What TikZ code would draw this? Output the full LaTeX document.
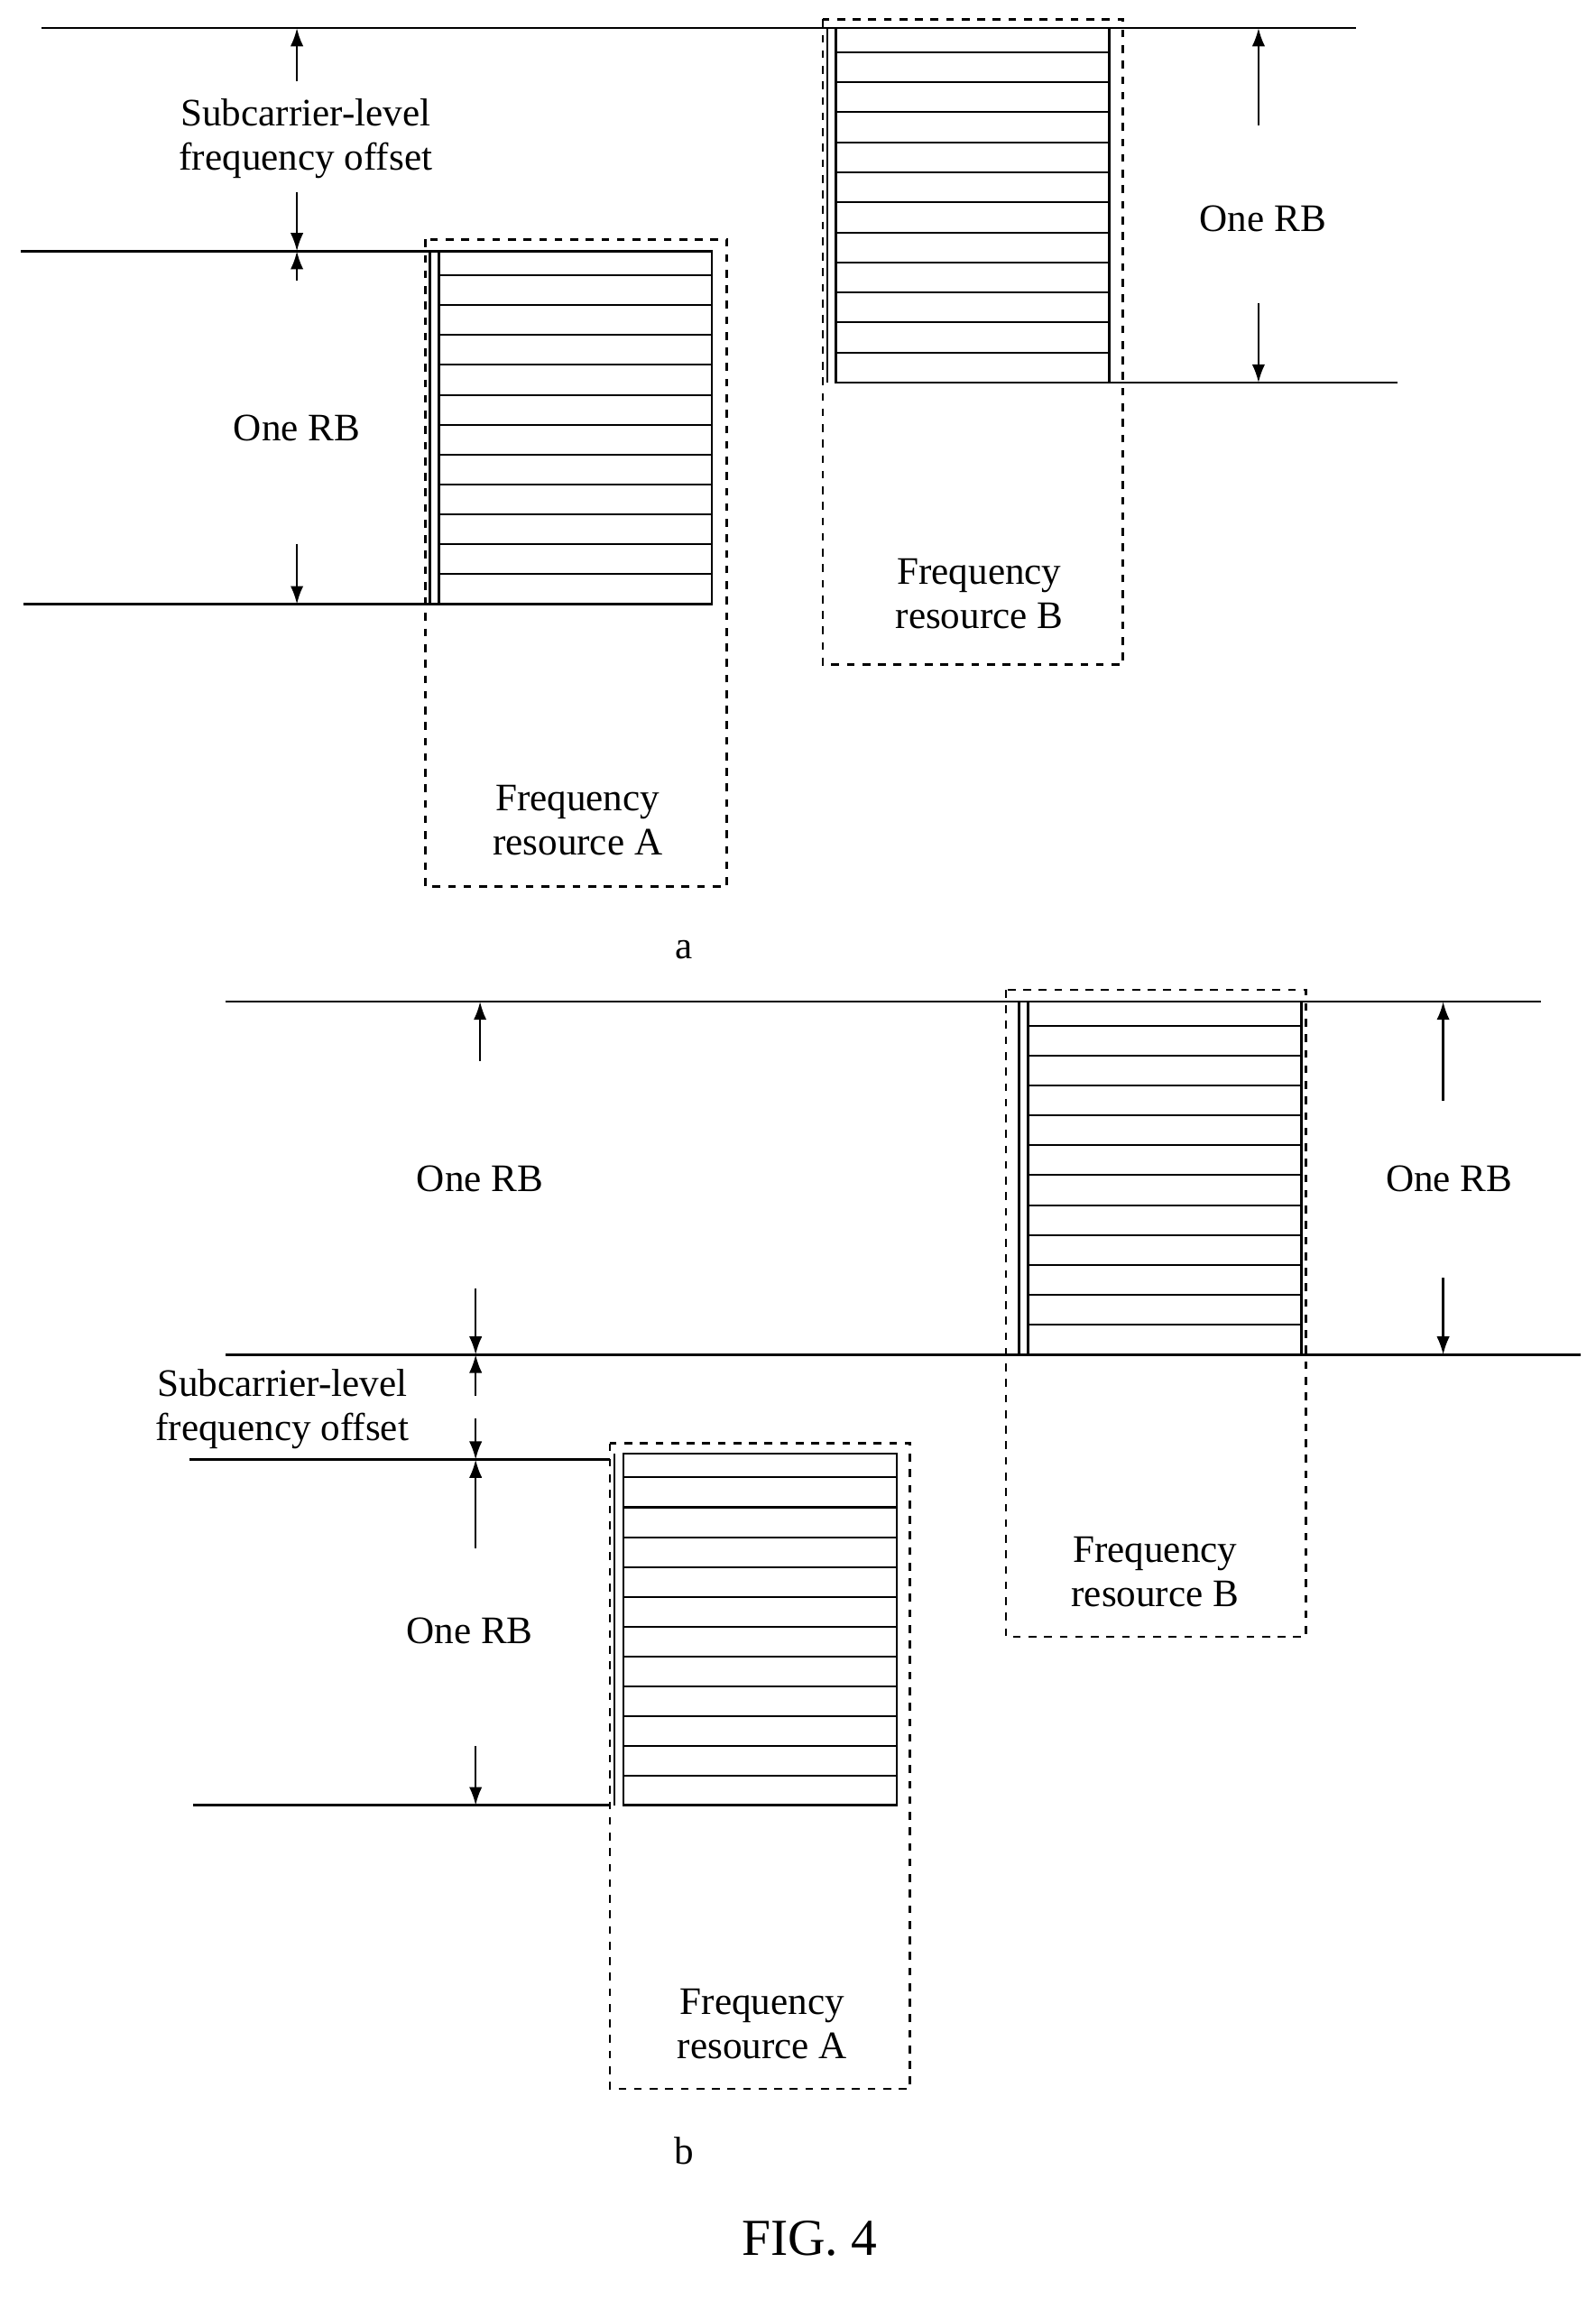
\documentclass[tikz,border=0pt]{standalone}
\usepackage{fontspec}
\setmainfont{Liberation Serif}
\usetikzlibrary{arrows.meta,positioning}
\tikzset{%
	level/.style = {line width=0.9pt},
	block/.style = {draw, line width=0.9pt},
	group/.style = {draw, dashed, line width=0.9pt},
	arrow/.style = {line width=0.8pt,-{Latex[length=7pt,width=5pt]}},
	label/.style = {font=\fontsize{15}{17}\selectfont, align=center},
}
\newcommand{\RBblock}[3]{% x, top y, bottom y
	\draw[block] (#1,#2) rectangle ++(185,#3-#2);
	\draw[block] (#1-6,#2) -- (#1-6,#3);
	\foreach \k in {1,...,10} \draw[line width=0.7pt] (#1,{#2+(#3-#2)*(\k+0.8)/11.8}) -- ++(185,0);
	\draw[line width=0.7pt] (#1,{#2+(#3-#2)*0.8/11.8}) -- ++(185,0);
}
\begin{document}
\begin{tikzpicture}[x=0.02cm,y=-0.02cm]
		\useasboundingbox (0,0) rectangle (1080,1563);
		% part a
		\draw[level] (28,19) -- (918,19);
		\draw[level] (14,170) -- (297,170);
		\draw[level] (16,409) -- (297,409);
		\draw[level] (750,259) -- (946,259);
		\RBblock{297}{170}{409}
		\RBblock{566}{19}{259}
		\draw[group] (288,162) rectangle (492,600);
		\draw[group] (557,13) rectangle (760,450);
		\node[label] (resA1) at (391,555) {Frequency\\resource A};
		\node[label] (resB1) at (663,402) {Frequency\\resource B};
		
		\coordinate (a1) at (201,19); \coordinate (a2) at (201,170); \coordinate (a3) at (201,409);
		\node[label] (offA) at (207,94) {Subcarrier-level\\frequency offset};
		\node[label] (rbA1) at (201,290) {One RB};
		\draw[arrow] (a1) ++(0,36) -- (a1);
		\draw[arrow] (a2) ++(0,-40) -- (a2);
		\draw[arrow] (a2) ++(0,20) -- (a2);
		\draw[arrow] (a3) ++(0,-41) -- (a3);
		\coordinate (a4) at (852,19); \coordinate (a5) at (852,259);
		\node[label] (rbA2) at (855,148) {One RB};
		\draw[arrow] (a4) ++(0,66) -- (a4);
		\draw[arrow] (a5) ++(0,-54) -- (a5);
		\node[label] (capA) at (463,643) {a};
		
		% part b
		\draw[level] (153,678) -- (1043,678);
		\draw[level] (153,917) -- (1070,917);
		\draw[level] (128,988) -- (413,988);
		\draw[level] (131,1222) -- (413,1222);
		\RBblock{422}{984}{1222}
		\RBblock{696}{678}{917}
		\draw[group] (413,977) rectangle (616,1414);
		\draw[group] (681,670) rectangle (884,1108);
		\node[label] (resA2) at (516,1370) {Frequency\\resource A};
		\node[label] (resB2) at (782,1064) {Frequency\\resource B};
		
		\coordinate (b1) at (325,678); \coordinate (b2) at (322,917); \coordinate (b3) at (322,988); \coordinate (b4) at (322,1222);
		\node[label] (rbB1) at (325,798) {One RB};
		\node[label] (offB) at (191,954) {Subcarrier-level\\frequency offset};
		\node[label] (rbB2) at (318,1104) {One RB};
		\draw[arrow] (b1) ++(0,40) -- (b1);
		\draw[arrow] (b2) ++(0,-45) -- (b2);
		\draw[arrow] (b2) ++(0,28) -- (b2);
		\draw[arrow] (b3) ++(0,-28) -- (b3);
		\draw[arrow] (b3) ++(0,60) -- (b3);
		\draw[arrow] (b4) ++(0,-40) -- (b4);
		\coordinate (b5) at (977,678); \coordinate (b6) at (977,917);
		\node[label] (rbB3) at (981,798) {One RB};
		\draw[arrow] (b5) ++(0,67) -- (b5);
		\draw[arrow] (b6) ++(0,-52) -- (b6);
		\node[label] (capB) at (463,1456) {b};
		
		\node[font=\fontsize{20}{22}\selectfont] (fig) at (548,1515) {FIG. 4};
		\end{tikzpicture}
\end{document}
